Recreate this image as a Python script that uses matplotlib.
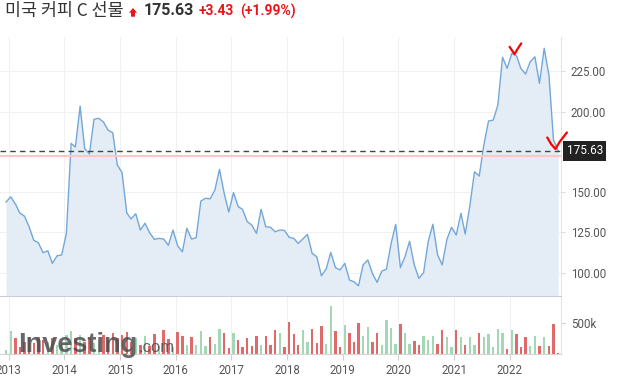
import matplotlib
matplotlib.use('Agg')
import matplotlib.pyplot as plt
import matplotlib.dates as mdates
from matplotlib.patches import Polygon
from matplotlib.transforms import IdentityTransform
import numpy as np
import pandas as pd

plt.rcParams['font.family'] = ['Roboto', 'DejaVu Sans']

W, H = 624, 384

# monthly points, Dec 2012 .. Nov 2022
dates = pd.date_range('2012-12-01', periods=120, freq='MS') + pd.Timedelta(days=14)

close = [143.8, 147.0, 142.5, 137.0, 135.0, 128.5, 120.0, 118.5, 112.3, 113.5,
         105.7, 110.4, 110.9, 124.3, 180.2, 178.0, 203.4, 177.0, 173.6, 195.2,
         195.8, 193.5, 188.5, 186.8, 166.8, 162.0, 137.0, 133.3, 136.5, 126.4,
         130.6, 124.7, 120.6, 121.2, 120.8, 116.9, 126.4, 116.5, 112.9, 127.5,
         120.8, 121.6, 144.4, 146.1, 145.8, 151.2, 164.1, 149.2, 137.6, 149.6,
         140.9, 139.3, 131.6, 129.5, 124.3, 139.3, 128.4, 128.1, 125.3, 126.4,
         126.2, 121.9, 121.2, 118.1, 120.8, 123.7, 111.9, 109.8, 98.0, 102.2,
         112.5, 103.0, 101.6, 105.7, 95.3, 94.3, 91.8, 104.7, 107.8, 99.5,
         93.9, 100.9, 102.0, 118.1, 129.9, 103.0, 110.2, 119.4, 104.7, 96.4,
         99.9, 119.1, 130.0, 110.9, 104.7, 120.6, 128.1, 123.3, 136.8, 123.9,
         141.9, 162.6, 159.9, 179.2, 194.1, 194.7, 204.0, 233.7, 226.8, 236.1,
         234.5, 226.8, 223.3, 230.9, 234.0, 217.5, 239.3, 222.7, 182.3, 175.63]

volume_k = [60, 365, 258, 110, 200, 250, 180, 280, 220, 200,
            260, 150, 180, 300, 365, 260, 300, 200, 260, 180,
            230, 300, 220, 338, 250, 300, 350, 200, 250, 150,
            285, 125, 322, 130, 382, 247, 120, 350, 285, 140,
            269, 140, 365, 124, 269, 161, 403, 338, 97, 338,
            225, 108, 258, 124, 285, 140, 285, 140, 382, 338,
            108, 512, 322, 140, 382, 188, 403, 177, 446, 161,
            768, 365, 108, 462, 338, 193, 500, 285, 430, 193,
            338, 140, 543, 419, 161, 484, 338, 161, 204, 140,
            285, 220, 285, 166, 382, 269, 108, 382, 269, 150,
            269, 140, 338, 269, 322, 108, 403, 338, 80, 382,
            322, 108, 277, 124, 285, 124, 269, 124, 484, 20]

prev_close = 172.20
change = 3.43
change_pct = 1.99
title = '미국 커피 C 선물'

close = np.array(close)
volume = np.array(volume_k) * 1000
up = np.r_[True, close[1:] >= close[:-1]]
bar_colors = np.where(up, '#a4d7b6', '#e06a6a')

fig = plt.figure(figsize=(W / 100, H / 100), dpi=100)


def box(l, t, r, b):
    return [l / W, 1 - b / H, (r - l) / W, (b - t) / H]


def px(x, y):
    return (x / W, 1 - y / H)


ax = fig.add_axes(box(0, 37, 561, 297))
axv = fig.add_axes(box(0, 297, 561, 354), sharex=ax)

xnum = mdates.date2num(dates)
step = np.diff(xnum).mean()
ymin, ymax = 84.8, 246.3
ax.set_xlim(xnum[0] - 1.3 * step, xnum[-1] + 0.6 * step)
ax.set_ylim(ymin, ymax)

ax.fill_between(dates, close, ymin, color='#e4edf6', lw=0, zorder=1)
ax.plot(dates, close, color='#72a7d8', lw=1, zorder=2)
ax.axhline(prev_close, color='#ffc6c6', lw=1.5, zorder=3)
ax.axhline(close[-1], color='#444444', lw=1, ls=(0, (4, 3)), zorder=4)

ax.set_yticks([100, 125, 150, 200, 225])
ax.yaxis.set_major_formatter(plt.FuncFormatter(lambda v, p: '%.2f' % v))
ax.yaxis.tick_right()
ax.tick_params(axis='y', labelsize=8.3, labelcolor='#555555', color='#dddddd', length=3, pad=4)
ax.tick_params(axis='x', labelbottom=False, length=0)
ax.grid(True, color='#f1f1f1', lw=0.8)
ax.set_axisbelow(True)
for s in ['top', 'left']:
    ax.spines[s].set_visible(False)
ax.spines['right'].set_color('#e4e4e4')
ax.spines['bottom'].set_color('#c8cdd5')
ax.spines['bottom'].set_linewidth(1.5)

# last price tag
ax.annotate('%.2f' % close[-1], xy=(1, close[-1]), xycoords=('axes fraction', 'data'),
            xytext=(5.5, 0), textcoords='offset pixels', ha='left', va='center',
            fontsize=8.5, color='white', annotation_clip=False, zorder=6,
            bbox=dict(boxstyle='square,pad=0.3', fc='#222222', ec='none'))

# volume panel
axv.bar(dates, volume, width=step * 0.52, color=bar_colors, zorder=2)
axv.set_ylim(0, 919000)
axv.set_yticks([500000])
axv.set_yticklabels(['500k'])
axv.yaxis.tick_right()
axv.xaxis.set_major_locator(mdates.YearLocator())
axv.xaxis.set_major_formatter(mdates.DateFormatter('%Y'))
axv.tick_params(axis='both', labelsize=8.3, labelcolor='#555555', color='#d0d0d0')
axv.tick_params(axis='x', length=4, pad=3)
axv.tick_params(axis='y', length=3, pad=4)
axv.grid(True, axis='x', color='#f1f1f1', lw=0.8)
axv.set_axisbelow(True)
for s in ['top', 'left']:
    axv.spines[s].set_visible(False)
axv.spines['right'].set_color('#e4e4e4')
axv.spines['bottom'].set_color('#d4d4d4')

# watermark: ".com" placed right after "Investing"
renderer = fig.canvas.get_renderer()
wm = fig.text(*px(18, 352), 'Investing', fontsize=19.5, fontweight='bold', family='Liberation Sans',
              color='#4d4d4d', alpha=0.85, ha='left', va='baseline', zorder=10)
wm_right = wm.get_window_extent(renderer).x1
fig.text(wm_right / W + 1 / W, 1 - 352 / H, '.com', fontsize=12, family='Liberation Sans',
         color='#4d4d4d', alpha=0.85, ha='left', va='baseline', zorder=10)

# header
fig.text(*px(5, 11), title, fontsize=12.5, family=['Noto Sans CJK KR', 'DejaVu Sans'],
         color='#333333', ha='left', va='center')
arrow = [(129, 12.7), (133, 8), (137, 12.7), (135, 12.7), (135, 16.7), (131, 16.7), (131, 12.7)]
fig.patches.append(Polygon([px(a, b) for a, b in arrow], closed=True, fc='#e8151b', ec='none',
                           transform=fig.transFigure, figure=fig))
fig.text(*px(144, 10.5), '%.2f' % close[-1], fontsize=11.5, fontweight='bold',
         color='#333333', ha='left', va='center')
fig.text(*px(199, 11), '+%.2f' % change, fontsize=10, fontweight='bold',
         color='#e8151b', ha='left', va='center')
fig.text(*px(240, 11), '(+%.2f%%)' % change_pct, fontsize=10, fontweight='bold',
         color='#e8151b', ha='left', va='center')

# hand-drawn check marks anchored at data points (pixel offsets, y down)
checks = [(109, [(-2.3, -6.6), (0.5, -2.5), (2.7, 0.7), (6, -5), (9.4, -10)]),
          (119, [(-11, -13.3), (-7, -6.5), (-2.8, -1.8), (1.7, -9.3), (8.7, -18.3)])]
for i, offs in checks:
    ax0, ay0 = ax.transData.transform((xnum[i], close[i]))
    xs = [ax0 + dx for dx, dy in offs]
    ys = [ay0 - dy for dx, dy in offs]
    fig.add_artist(plt.Line2D(xs, ys, color='#ff0000', lw=1.6, transform=IdentityTransform(),
                              solid_capstyle='round', solid_joinstyle='round', zorder=12))

fig.savefig('out.png', dpi=100)
